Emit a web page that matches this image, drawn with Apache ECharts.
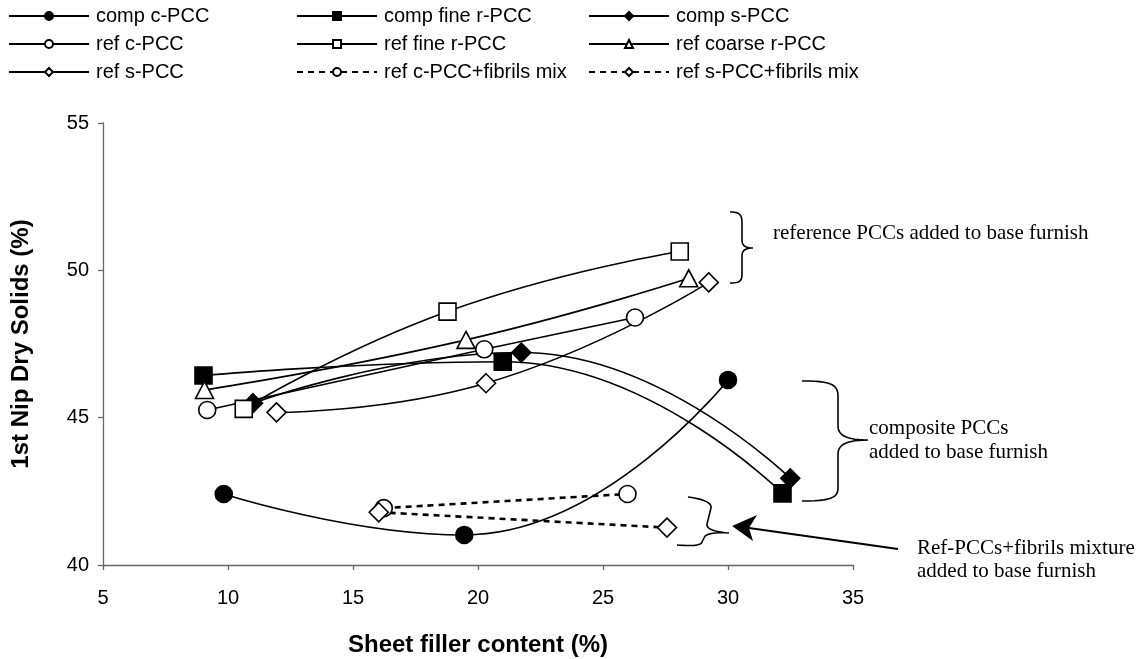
<!DOCTYPE html>
<html>
<head>
<meta charset="utf-8">
<script src="https://cdn.jsdelivr.net/npm/echarts@6/dist/echarts.min.js"></script>
<style>
  html, body { margin: 0; padding: 0; background: #fff; }
  #main { width: 1145px; height: 659px; }
</style>
</head>
<body>
<div id="main"></div>
<script>
// data: [sheet filler content %, 1st nip dry solids %]
const compC = [[9.83, 42.41], [19.45, 41.02], [30.0, 46.28]];
const compFineR = [[9.02, 46.43], [20.99, 46.9], [32.18, 42.43]];
const compS = [[11.0, 45.49], [21.73, 47.21], [32.49, 42.94]];
const refC = [[9.17, 45.26], [20.25, 47.32], [26.28, 48.4]];
const refFineR = [[10.63, 45.3], [18.78, 48.6], [28.07, 50.64]];
const refCoarseR = [[9.06, 45.94], [19.52, 47.64], [28.43, 49.73]];
const refS = [[11.94, 45.18], [20.32, 46.17], [29.23, 49.59]];
const refCFibrils = [[16.23, 41.93], [25.98, 42.41]];
const refSFibrils = [[16.03, 41.79], [27.56, 41.27]];

const xTicks = [5, 10, 15, 20, 25, 30, 35];
const yTicks = [40, 45, 50, 55];

const sans = 'Liberation Sans, Arial, sans-serif';
const serif = 'Liberation Serif, Times New Roman, serif';

function mk(name, data, symbol, filled, dotted) {
  return {
    name: name,
    type: 'line',
    data: data,
    smooth: 0.5,
    symbol: symbol,
    symbolSize: symbol === 'diamond' ? [19, 19] : (symbol === 'triangle' ? [18, 17] : 17),
    showAllSymbol: true,
    lineStyle: { color: '#000', width: dotted ? 2.6 : 1.6, type: dotted ? [6, 5] : 'solid' },
    itemStyle: { color: filled ? '#000' : '#fff', borderColor: '#000', borderWidth: 1.6 },
    emphasis: { disabled: true },
    z: 3
  };
}

const series = [
  mk('comp c-PCC', compC, 'circle', true),
  mk('comp fine r-PCC', compFineR, 'rect', true),
  mk('comp s-PCC', compS, 'diamond', true),
  mk('ref c-PCC', refC, 'circle', false),
  mk('ref fine r-PCC', refFineR, 'rect', false),
  mk('ref coarse r-PCC', refCoarseR, 'triangle', false),
  mk('ref s-PCC', refS, 'diamond', false),
  mk('ref c-PCC+fibrils mix', refCFibrils, 'circle', false, true),
  mk('ref s-PCC+fibrils mix', refSFibrils, 'diamond', false, true)
];

function legendCol(left, names) {
  return {
    orient: 'vertical',
    left: left,
    top: 1,
    itemWidth: 80,
    itemHeight: 10,
    itemGap: 8,
    data: names,
    selectedMode: false,
    textStyle: { fontFamily: sans, fontSize: 20, color: '#000', padding: [0, 0, 0, 2] }
  };
}

// sample a simple path (start point, then L / C segments) into polyline points
function curvePoints(start, segs) {
  const pts = [start.slice()];
  let p = start;
  segs.forEach(function (s) {
    if (s[0] === 'L') {
      p = [s[1], s[2]];
      pts.push(p);
    } else {
      const c1 = [s[1], s[2]], c2 = [s[3], s[4]], e = [s[5], s[6]];
      for (let i = 1; i <= 12; i++) {
        const t = i / 12, u = 1 - t;
        pts.push([
          u * u * u * p[0] + 3 * u * u * t * c1[0] + 3 * u * t * t * c2[0] + t * t * t * e[0],
          u * u * u * p[1] + 3 * u * u * t * c1[1] + 3 * u * t * t * c2[1] + t * t * t * e[1]
        ]);
      }
      p = e;
    }
  });
  return pts;
}

const braceStyle = { stroke: '#000', lineWidth: 1.6, fill: null };
const brace = (start, segs) => ({ type: 'polyline', shape: { points: curvePoints(start, segs) }, style: braceStyle });
const noteText = (x, y, t) => ({
  type: 'text', x: x, y: y,
  style: { text: t, fontFamily: serif, fontSize: 21, fill: '#000', verticalAlign: 'middle' }
});

const chart = echarts.init(document.getElementById('main'));

chart.setOption({
  animation: false,
  backgroundColor: '#fff',
  legend: [
    legendCol(3, ['comp c-PCC', 'ref c-PCC', 'ref s-PCC']),
    legendCol(291, ['comp fine r-PCC', 'ref fine r-PCC', 'ref c-PCC+fibrils mix']),
    legendCol(583, ['comp s-PCC', 'ref coarse r-PCC', 'ref s-PCC+fibrils mix'])
  ],
  grid: { left: 103, right: 292, top: 123, bottom: 94, containLabel: false, outerBoundsMode: 'none' },
  xAxis: {
    type: 'value',
    min: xTicks[0],
    max: xTicks[xTicks.length - 1],
    interval: 5,
    name: 'Sheet filler content (%)',
    nameLocation: 'middle',
    nameGap: 68,
    nameTextStyle: { fontFamily: sans, fontSize: 24, fontWeight: 'bold', color: '#000' },
    axisLine: { lineStyle: { color: '#666', width: 1.3 } },
    axisTick: { show: true, inside: false, length: 5, lineStyle: { color: '#666', width: 1.3 } },
    axisLabel: { fontFamily: sans, fontSize: 20, color: '#000', margin: 23 },
    splitLine: { show: false }
  },
  yAxis: {
    type: 'value',
    min: yTicks[0],
    max: yTicks[yTicks.length - 1],
    interval: 5,
    name: '1st Nip Dry Solids (%)',
    nameLocation: 'middle',
    nameGap: 70,
    nameTextStyle: { fontFamily: sans, fontSize: 24, fontWeight: 'bold', color: '#000' },
    axisLine: { show: true, lineStyle: { color: '#666', width: 1.3 } },
    axisTick: { show: true, inside: false, length: 5, lineStyle: { color: '#666', width: 1.3 } },
    axisLabel: { fontFamily: sans, fontSize: 20, color: '#000', margin: 14 },
    splitLine: { show: false }
  },
  series: series,
  graphic: [
    brace([730, 212], [['C', 740, 212, 742, 215, 742, 223], ['L', 742, 240], ['C', 742, 246, 746, 248, 753, 248],
      ['C', 746, 248, 742, 250, 742, 256], ['L', 742, 274], ['C', 742, 281, 740, 283, 730, 283]]),
    brace([802, 381], [['C', 830, 381, 838, 384, 838, 396], ['L', 838, 426], ['C', 838, 436, 848, 440, 868, 440],
      ['C', 848, 440, 838, 444, 838, 454], ['L', 838, 488], ['C', 838, 498, 830, 501, 802, 501]]),
    brace([688, 497], [['C', 704, 499, 712, 503, 711, 508], ['L', 707, 524], ['C', 706, 529, 715, 532, 729, 533],
      ['C', 713, 532, 705, 534, 704, 538], ['L', 702, 542], ['C', 701, 546, 690, 546, 677, 545]]),
    { type: 'line', shape: { x1: 749, y1: 528, x2: 898, y2: 549 }, style: { stroke: '#000', lineWidth: 2 } },
    { type: 'polygon', shape: { points: [[732, 526], [757, 515], [749, 528], [753, 541]] }, style: { fill: '#000' } },
    noteText(773, 233, 'reference PCCs added to base furnish'),
    noteText(869, 428, 'composite PCCs'),
    noteText(869, 452, 'added to base furnish'),
    noteText(917, 548, 'Ref-PCCs+fibrils mixture'),
    noteText(917, 571, 'added to base furnish')
  ]
});
</script>
</body>
</html>
